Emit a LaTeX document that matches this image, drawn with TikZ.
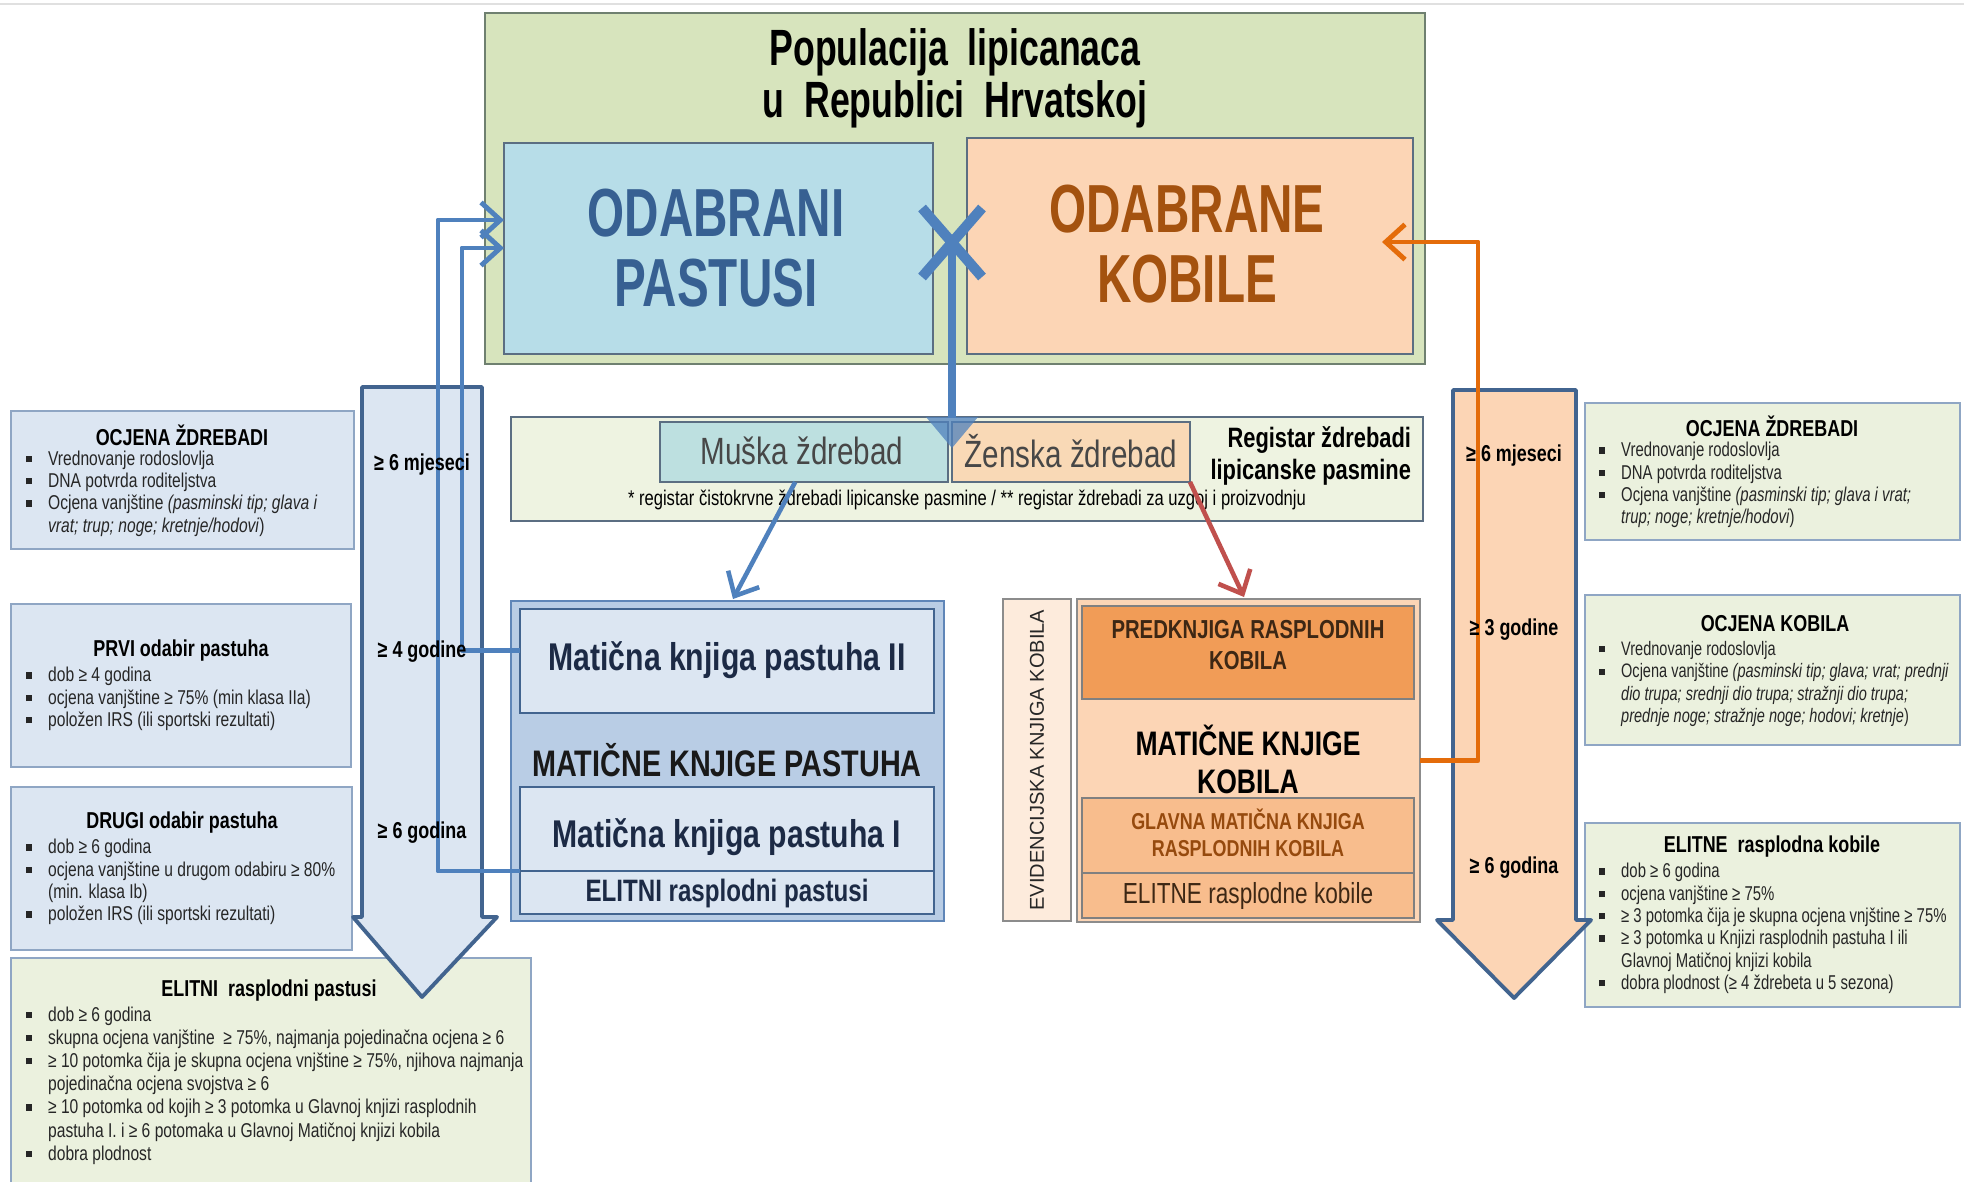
\documentclass[tikz,border=0pt]{standalone}
\usepackage{fontspec}
\setmainfont{Liberation Sans}
\newfontfamily\nar[FakeStretch=0.78]{Liberation Sans}
\newfontfamily\narx[FakeStretch=0.745]{Liberation Sans}
\newfontfamily\narr[FakeStretch=0.7]{Liberation Sans}
\usetikzlibrary{fit,arrows.meta}
\newcommand\fsz[2]{\fontsize{#1pt}{#2pt}\selectfont}
\newcommand\itm{\makebox[6.3pt][l]{\rule[0.3ex]{0.6ex}{0.6ex}}}
\newcommand\cnt{\hspace*{6.3pt}}
\definecolor{popG}{HTML}{D7E4BD}
\definecolor{popB}{HTML}{6F8070}
\definecolor{stalF}{HTML}{B7DDE8}
\definecolor{mareF}{HTML}{FCD5B5}
\definecolor{blueT}{HTML}{376092}
\definecolor{orT}{HTML}{A4520F}
\definecolor{lineB}{HTML}{4F81BD}
\definecolor{lineO}{HTML}{E46C0A}
\definecolor{lineR}{HTML}{C0504D}
\definecolor{regF}{HTML}{EEF3E1}
\definecolor{musF}{HTML}{BDE0E0}
\definecolor{zenF}{HTML}{F9D9B6}
\definecolor{boxBd}{HTML}{5B6E82}
\definecolor{lbF}{HTML}{DCE6F2}
\definecolor{lgF}{HTML}{EBF1DE}
\definecolor{infBd}{HTML}{8FA6C4}
\definecolor{arrBd}{HTML}{42648F}
\definecolor{bkO}{HTML}{B9CDE5}
\definecolor{bkBd}{HTML}{5F86B8}
\definecolor{navy}{HTML}{1C2A45}
\definecolor{evF}{HTML}{FDEBDC}
\definecolor{predF}{HTML}{F19C57}
\definecolor{glavF}{HTML}{F8BD8D}
\definecolor{brT}{HTML}{964A0E}
\definecolor{dkBr}{HTML}{3D2714}
\definecolor{txtG}{HTML}{262626}
\begin{document}
\begin{tikzpicture}[x=0.01cm,y=-0.01cm,
 every node/.style={inner sep=0pt, outer sep=0pt},
 rect/.style={draw, line width=0.5pt, inner sep=0pt},
 info/.style={rect, draw=infBd, line width=0.6pt},
 itemtxt/.style={font=\nar\fsz{5.69}{6.35}, align=left, anchor=west, text=txtG},
 itemr/.style={itemtxt, font=\narx\fsz{5.69}{6.35}},
 ttl/.style={font=\nar\bfseries\fsz{6.54}{7}, text=black},
 lbl/.style={font=\nar\bfseries\fsz{6.54}{7}, text=black},
 conn/.style={line width=1.4pt, -{Straight Barb[length=5.5pt,width=10pt]}, line join=round},
 bigarrow/.style={draw=arrBd, line width=1.1pt, line join=round}
]
\useasboundingbox (0,0) rectangle (1964,1181);
\fill[white] (0,0) rectangle (1964,1181);
\draw[black!12, line width=0.4pt] (0,4) -- (1964,4);

% population box
\node[rect, draw=popB, fill=popG, fit={(485,13)(1425,364)}] (pop) {};
\node[font=\narr\bfseries\fsz{14.5}{14.8}, align=center] (popt) at (955,78) {Populacija\ \ lipicanaca\\u\ \ Republici\ \ Hrvatskoj};
\node[rect, draw=boxBd, fill=stalF, fit={(504,143)(933,354)}] (past) {};
\node[font=\narr\bfseries\fsz{19.35}{19.9}, align=center, text=blueT] (pastt) at (716,248) {ODABRANI\\PASTUSI};
\node[rect, draw=boxBd, fill=mareF, fit={(967,138)(1413,354)}] (kob) {};
\node[font=\narr\bfseries\fsz{19.35}{19.9}, align=center, text=orT] (kobt) at (1187,244) {ODABRANE\\KOBILE};

% register of foals
\node[rect, draw=boxBd, fill=regF, fit={(511,417)(1423,521)}] (reg) {};
\node[rect, draw=boxBd, fill=musF, fit={(660,422)(948,482)}] (mus) {};
\node[font=\nar\fsz{10.8}{11}, text=black!72] (must) at (802,451) {Muška ždrebad};
\node[rect, draw=boxBd, fill=zenF, fit={(952,422)(1190,482)}] (zen) {};
\node[font=\nar\fsz{10.8}{11}, text=black!72] (zent) at (1071,451) {Ženska ždrebad};
\node[font=\nar\bfseries\fsz{7.97}{9.1}, align=right, anchor=east] (regt) at (1411,456) {Registar ždrebadi\\lipicanske pasmine};
\node[font=\nar\fsz{6.05}{6.5}] (regn) at (967,500) {* registar čistokrvne ždrebadi lipicanske pasmine / ** registar ždrebadi za uzgoj i proizvodnju};

% cross and line down
\coordinate (xc) at (952,242);
\coordinate (tritop) at (952,418);
\draw[lineB, line width=2.3pt] (xc) -- (tritop);
\fill[lineB, opacity=0.75] (926,417) -- (978,417) -- (952,448) -- cycle;
\draw[lineB, line width=2.9pt] (922,208) -- (982,277);
\draw[lineB, line width=2.9pt] (982,208) -- (922,277);

% stallion books
\node[rect, draw=bkBd, fill=bkO, line width=0.8pt, fit={(511,601)(944,921)}] (stal) {};
\node[rect, draw=arrBd, fill=lbF, fit={(520,609)(934,713)}] (mk2) {};
\node[font=\nar\bfseries\fsz{11}{12}, text=navy] (mk2t) at (727,660) {Matična knjiga pastuha II};
\node[font=\nar\bfseries\fsz{10.5}{11}, text=black!90] (mkp) at (727,760) {MATIČNE KNJIGE PASTUHA};
\node[rect, draw=arrBd, fill=lbF, fit={(520,787)(934,871)}] (mk1) {};
\node[font=\nar\bfseries\fsz{11}{12}, text=navy] (mk1t) at (727,837) {Matična knjiga pastuha I};
\node[rect, draw=arrBd, fill=lbF, fit={(520,871)(934,914)}] (elp) {};
\node[font=\nar\bfseries\fsz{8.8}{9}, text=navy] (elpt) at (727,893) {ELITNI rasplodni pastusi};

% mare books
\node[rect, draw=black!45, fill=evF, fit={(1003,599)(1071,921)}] (evid) {};
\node[rotate=90, font=\fsz{5.7}{6}, text=txtG] (evidt) at (evid.center) {EVIDENCIJSKA KNJIGA KOBILA};
\node[rect, draw=black!45, fill=mareF, line width=0.8pt, fit={(1077,599)(1420,922)}] (mare) {};
\node[rect, draw=black!50, fill=predF, fit={(1082,606)(1414,699)}] (pred) {};
\node[font=\nar\bfseries\fsz{7.4}{8.8}, align=center, text=dkBr] (predt) at (1248,645) {PREDKNJIGA RASPLODNIH\\KOBILA};
\node[font=\nar\bfseries\fsz{9.67}{10.8}, align=center, text=black] (mkk) at (1248,759) {MATIČNE KNJIGE\\KOBILA};
\node[rect, draw=black!50, fill=glavF, fit={(1082,798)(1414,873)}] (glav) {};
\node[font=\nar\bfseries\fsz{6.54}{7.7}, align=center, text=brT] (glavt) at (1248,833) {GLAVNA MATIČNA KNJIGA\\RASPLODNIH KOBILA};
\node[rect, draw=black!50, fill=glavF, fit={(1082,873)(1414,918)}] (elk) {};
\node[font=\nar\fsz{8.25}{9}, text=dkBr] (elkt) at (1248,896) {ELITNE rasplodne kobile};

% arrows from foals register
\coordinate (stalIn) at (733,599);
\coordinate (mareIn) at (1244,597);
\draw[conn, draw=lineB, line width=1.3pt] ([xshift=-2.5pt]mus.south) -- (stalIn);
\draw[conn, draw=lineR, line width=1.3pt] (zen.south east) -- (mareIn);

% left info boxes
\node[info, fill=lbF, fit={(11,411)(354,549)}] (oz1) {};
\node[ttl] (oz1t) at (182,435) {OCJENA ŽDREBADI};
\node[itemtxt] (oz1i) at (26,493.5) {\itm Vrednovanje rodoslovlja\\\itm DNA potvrda roditeljstva\\\itm Ocjena vanjštine \textit{(pasminski tip; glava i}\\\cnt\textit{vrat; trup; noge; kretnje/hodovi})};

\node[info, fill=lbF, fit={(11,604)(351,767)}] (prvi) {};
\node[ttl] (prvit) at (181,651) {PRVI odabir pastuha};
\node[itemtxt] (prvii) at (26,699) {\itm dob ≥ 4 godina\\\itm ocjena vanjštine ≥ 75\% (min klasa IIa)\\\itm položen IRS (ili sportski rezultati)};

\node[info, fill=lbF, fit={(11,787)(352,950)}] (drugi) {};
\node[ttl] (drugit) at (182,823) {DRUGI odabir pastuha};
\node[itemtxt] (drugii) at (26,882) {\itm dob ≥ 6 godina\\\itm ocjena vanjštine u drugom odabiru ≥ 80\%\\\cnt(min. klasa Ib)\\\itm položen IRS (ili sportski rezultati)};

\node[info, fill=lgF, fit={(11,958)(531,1190)}] (elit) {};
\node[ttl] (elitt) at (269,991) {ELITNI\ \ rasplodni pastusi};
\node[itemtxt, font=\nar\fsz{5.69}{6.6}] (eliti) at (26,1085.5) {\itm dob ≥ 6 godina\\\itm skupna ocjena vanjštine\ \ ≥ 75\%, najmanja pojedinačna ocjena ≥ 6\\\itm ≥ 10 potomka čija je skupna ocjena vnjštine ≥ 75\%, njihova najmanja\\\cnt pojedinačna ocjena svojstva ≥ 6\\\itm ≥ 10 potomka od kojih ≥ 3 potomka u Glavnoj knjizi rasplodnih\\\cnt pastuha I. i ≥ 6 potomaka u Glavnoj Matičnoj knjizi kobila\\\itm dobra plodnost};

% right info boxes
\node[info, fill=lgF, fit={(1585,403)(1960,540)}] (oz2) {};
\node[ttl] (oz2t) at (1772,426) {OCJENA ŽDREBADI};
\node[itemr] (oz2i) at (1599,485) {\itm Vrednovanje rodoslovlja\\\itm DNA potvrda roditeljstva\\\itm Ocjena vanjštine \textit{(pasminski tip; glava i vrat;}\\\cnt\textit{trup; noge; kretnje/hodovi})};

\node[info, fill=lgF, fit={(1585,595)(1960,745)}] (ock) {};
\node[ttl] (ockt) at (1775,624) {OCJENA KOBILA};
\node[itemr, font=\narx\fsz{5.55}{6.35}] (ocki) at (1599,684) {\itm Vrednovanje rodoslovlja\\\itm Ocjena vanjštine \textit{(pasminski tip; glava; vrat; prednji}\\\cnt\textit{dio trupa; srednji dio trupa; stražnji dio trupa;}\\\cnt\textit{prednje noge; stražnje noge; hodovi; kretnje})};

\node[info, fill=lgF, fit={(1585,823)(1960,1007)}] (elk2) {};
\node[ttl] (elk2t) at (1772,847) {ELITNE\ \ rasplodna kobile};
\node[itemr] (elk2i) at (1599,928.5) {\itm dob ≥ 6 godina\\\itm ocjena vanjštine ≥ 75\%\\\itm ≥ 3 potomka čija je skupna ocjena vnjštine ≥ 75\%\\\itm ≥ 3 potomka u Knjizi rasplodnih pastuha I ili\\\cnt Glavnoj Matičnoj knjizi kobila\\\itm dobra plodnost (≥ 4 ždrebeta u 5 sezona)};

% big arrows
\filldraw[bigarrow, fill=lbF] (362,387) -- (482,387) -- (482,917) -- (497,917) -- (422,997) -- (353,917) -- (362,917) -- cycle;
\filldraw[bigarrow, fill=mareF] (1453,390) -- (1576,390) -- (1576,920) -- (1591,920) -- (1514,998) -- (1437,920) -- (1453,920) -- cycle;

% connectors back to selected animals
\coordinate (c1) at (438,220);
\coordinate (c2) at (462,248);
\coordinate (c3) at (1478,242);
\coordinate (kobtip) at (1382,242);
\draw[conn, draw=lineB] (elp.north west) -| (c1) -- (c1 -| past.west);
\draw[conn, draw=lineB] ([yshift=3pt]mk2.west) -| (c2) -- (c2 -| past.west);
\draw[conn, draw=lineO] (mare.east) -| (c3) -- (kobtip);

% age labels
\node[lbl] (l6m) at (422,465) {≥ 6 mjeseci};
\node[lbl] (l4g) at (422,652) {≥ 4 godine};
\node[lbl] (l6g) at (422,833) {≥ 6 godina};
\node[lbl] (r6m) at (1514,456) {≥ 6 mjeseci};
\node[lbl] (r3g) at (1514,630) {≥ 3 godine};
\node[lbl] (r6g) at (1514,868) {≥ 6 godina};
\end{tikzpicture}
\end{document}
